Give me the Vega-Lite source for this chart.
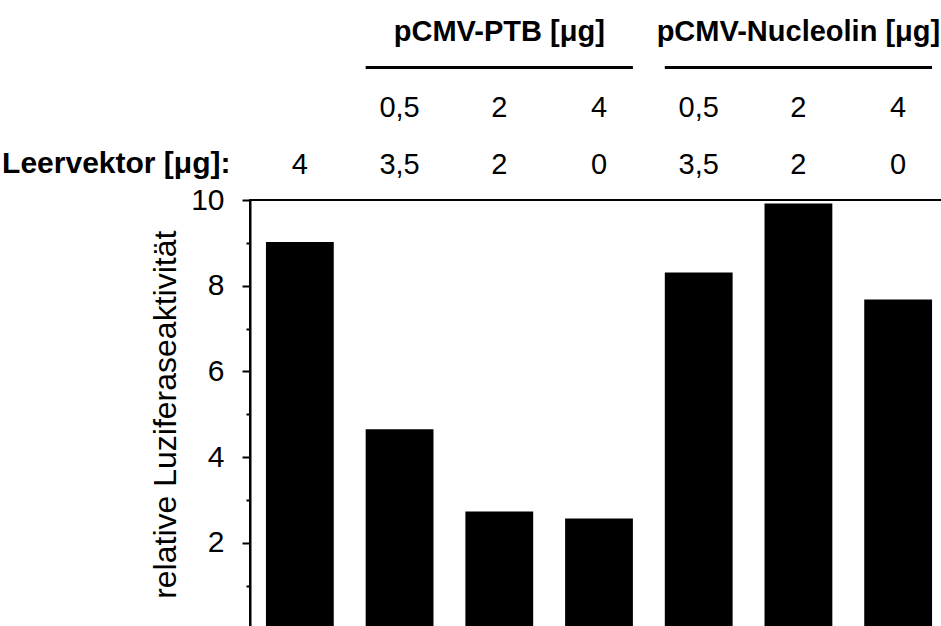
{
  "$schema": "https://vega.github.io/schema/vega-lite/v6.json",
  "width": 698,
  "height": 428.5,
  "autosize": "none",
  "padding": {"left": 250, "top": 200, "right": 0, "bottom": 0},
  "background": "white",
  "config": {
    "view": {"stroke": "black", "strokeWidth": 2},
    "font": "Liberation Sans",
    "text": {"font": "Liberation Sans"}
  },
  "datasets": {
    "bars": [
      {"bar": "Leer||4", "value": 9.02},
      {"bar": "PTB|0,5|3,5", "value": 4.65},
      {"bar": "PTB|2|2", "value": 2.73},
      {"bar": "PTB|4|0", "value": 2.57},
      {"bar": "Nucleolin|0,5|3,5", "value": 8.31},
      {"bar": "Nucleolin|2|2", "value": 9.92},
      {"bar": "Nucleolin|4|0", "value": 7.68}
    ],
    "groups": [
      {"label": "pCMV-PTB [μg]", "first": "PTB|0,5|3,5", "mid": "PTB|2|2", "last": "PTB|4|0"},
      {"label": "pCMV-Nucleolin [μg]", "first": "Nucleolin|0,5|3,5", "mid": "Nucleolin|2|2", "last": "Nucleolin|4|0"}
    ]
  },
  "layer": [
    {
      "data": {"name": "bars"},
      "mark": {"type": "bar", "color": "black"},
      "encoding": {
        "x": {
          "field": "bar",
          "type": "nominal",
          "sort": null,
          "scale": {"paddingInner": 0.32, "paddingOuter": 0.16},
          "axis": {
            "orient": "top",
            "domain": false,
            "ticks": false,
            "labelAngle": 0,
            "labelExpr": "[split(datum.label, '|')[1], split(datum.label, '|')[2]]",
            "labelLineHeight": 57,
            "labelFontSize": 29,
            "labelColor": "black",
            "labelBaseline": "middle",
            "labelPadding": 93,
            "title": "Leervektor [μg]:",
            "titleFontSize": 30,
            "titleFontWeight": "bold",
            "titleColor": "black",
            "titleAngle": 0,
            "titleAlign": "right",
            "titleBaseline": "middle",
            "titleX": -20,
            "titleY": -37
          }
        },
        "y": {
          "field": "value",
          "type": "quantitative",
          "scale": {"domain": [0, 10]},
          "axis": {
            "title": "relative Luziferaseaktivität",
            "titleFontSize": 32,
            "titleFontWeight": "normal",
            "titleColor": "black",
            "titlePadding": 8,
            "values": [1, 2, 3, 4, 5, 6, 7, 8, 9, 10],
            "labelExpr": "datum.value % 2 === 0 ? datum.label : ''",
            "labelFontSize": 30,
            "labelColor": "black",
            "labelPadding": 18,
            "tickColor": "black",
            "tickWidth": 2,
            "tickSize": {"condition": {"test": "datum.value % 2 === 0", "value": 8}, "value": 4},
            "domainColor": "black",
            "domainWidth": 2,
            "grid": false
          }
        }
      }
    },
    {
      "data": {"name": "groups"},
      "mark": {"type": "text", "fontSize": 29, "fontWeight": "bold", "color": "black", "baseline": "middle"},
      "encoding": {
        "x": {"field": "mid", "type": "nominal", "sort": null},
        "y": {"datum": 13.92},
        "text": {"field": "label"}
      }
    },
    {
      "data": {"name": "groups"},
      "mark": {"type": "rule", "color": "black", "strokeWidth": 3},
      "encoding": {
        "x": {"field": "first", "type": "nominal", "sort": null, "bandPosition": 0},
        "x2": {"field": "last", "bandPosition": 1},
        "y": {"datum": 13.09}
      }
    }
  ]
}
